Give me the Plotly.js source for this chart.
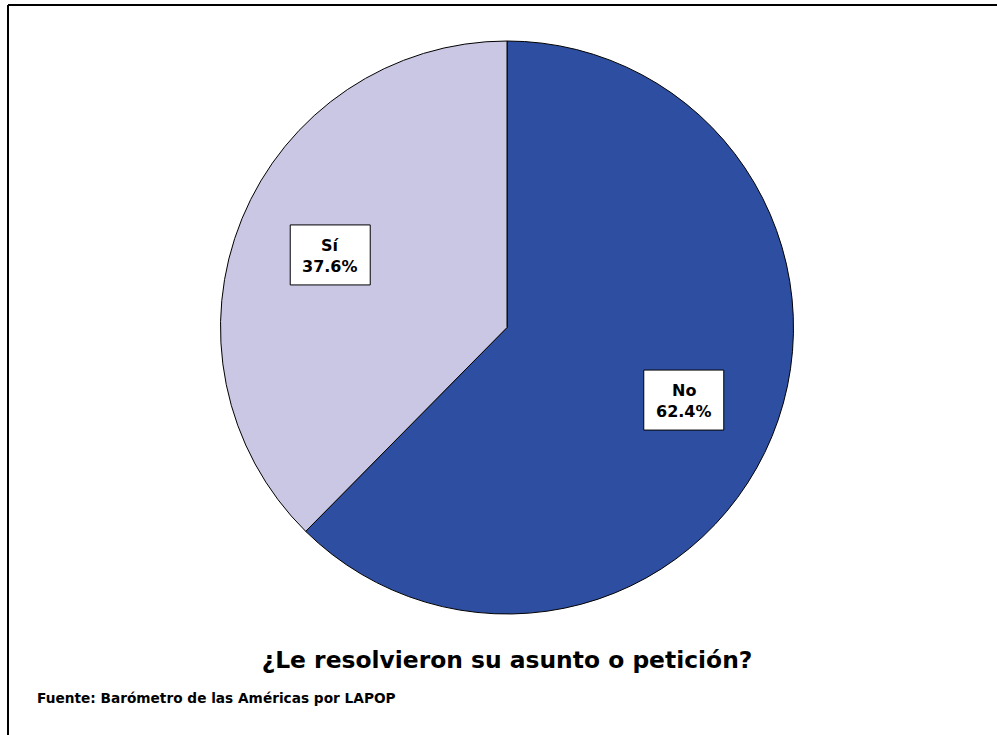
<!DOCTYPE html>
<html>
<head>
<meta charset="utf-8">
<script src="https://cdn.plot.ly/plotly-3.0.1.min.js"></script>
<style>
html,body{margin:0;padding:0;background:#fff;}
#chart{width:997px;height:735px;}
</style>
</head>
<body>
<div id="chart"></div>
<script>
const categories = ["No", "Sí"];
const values = [62.4, 37.6];
const colors = ["#2E4FA1", "#C9C7E3"];
const chartTitle = "¿Le resolvieron su asunto o petición?";
const sourceNote = "Fuente: Barómetro de las Américas por LAPOP";

const W = 997, H = 735;
const FONT = 'DejaVu Sans, Verdana, sans-serif';
const dom = {x: [220 / W, 794 / W], y: [1 - 614 / H, 1 - 41 / H]};

// label boxes at 2/3 radius along each slice's mid-angle
const total = values.reduce((a, b) => a + b, 0);
const cx = (dom.x[0] + dom.x[1]) / 2 * W;
const cy = (1 - (dom.y[0] + dom.y[1]) / 2) * H;
const R = Math.min((dom.x[1] - dom.x[0]) * W, (dom.y[1] - dom.y[0]) * H) / 2;
const BOXW = 80, BOXH = 60;
const annotations = [];
const shapes = [];
let cum = 0;
categories.forEach((c, i) => {
  const mid = (cum + values[i] / 2) / total * 2 * Math.PI;
  cum += values[i];
  const px = cx + Math.sin(mid) * R * 0.667;
  const py = cy - Math.cos(mid) * R * 0.667;
  shapes.push({
    type: 'rect', xref: 'paper', yref: 'paper',
    x0: (px - BOXW / 2) / W, x1: (px + BOXW / 2) / W,
    y0: 1 - (py + BOXH / 2) / H, y1: 1 - (py - BOXH / 2) / H,
    fillcolor: '#fff', line: {color: '#000', width: 1}, layer: 'above'
  });
  annotations.push({
    xref: 'paper', yref: 'paper', x: px / W, y: 1 - (py - 9.5) / H,
    xanchor: 'center', yanchor: 'middle', showarrow: false,
    text: '<b>' + c + '</b>',
    font: {family: FONT, size: 16, color: '#000'}
  });
  annotations.push({
    xref: 'paper', yref: 'paper', x: px / W, y: 1 - (py + 11.5) / H,
    xanchor: 'center', yanchor: 'middle', showarrow: false,
    text: '<b>' + values[i].toFixed(1) + '%</b>',
    font: {family: FONT, size: 16, color: '#000'}
  });
});
annotations.push({
  xref: 'paper', yref: 'paper', x: 35 / W, y: 1 - 698 / H,
  xanchor: 'left', yanchor: 'middle', showarrow: false,
  text: '<b>' + sourceNote + '</b>',
  font: {family: FONT, size: 13.7, color: '#000'}
});
shapes.push(
  {type: 'line', xref: 'paper', yref: 'paper', x0: 8 / W, x1: 1, y0: 1 - 5 / H, y1: 1 - 5 / H, line: {color: '#000', width: 2}},
  {type: 'line', xref: 'paper', yref: 'paper', x0: 8 / W, x1: 8 / W, y0: 0, y1: 1 - 5 / H, line: {color: '#000', width: 2}}
);

const data = [{
  type: 'pie',
  labels: categories,
  values: values,
  sort: false,
  direction: 'clockwise',
  rotation: 0,
  marker: {colors: colors, line: {color: '#000', width: 1}},
  textinfo: 'none',
  hoverinfo: 'label+percent',
  domain: dom,
  showlegend: false
}];

const layout = {
  width: W, height: H,
  margin: {l: 0, r: 0, t: 0, b: 0},
  paper_bgcolor: '#fff',
  showlegend: false,
  title: {
    text: '<b>' + chartTitle + '</b>',
    xref: 'paper', yref: 'paper', x: 507 / W, y: 1 - 660 / H,
    xanchor: 'center', yanchor: 'middle',
    font: {family: FONT, size: 23.4, color: '#000'}
  },
  annotations: annotations,
  shapes: shapes
};

Plotly.newPlot('chart', data, layout, {displayModeBar: false, staticPlot: true});
</script>
</body>
</html>
